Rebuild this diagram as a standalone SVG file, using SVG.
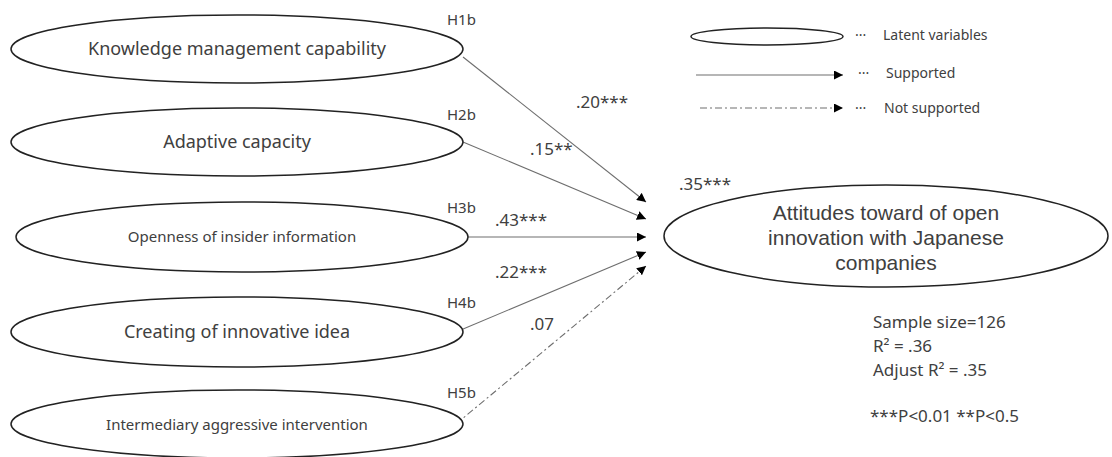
<svg xmlns="http://www.w3.org/2000/svg" width="1112" height="457" viewBox="0 0 1112 457">
<style>
.node{fill:#fff;stroke:#222;stroke-width:1.5}
.t{font-family:"Noto Sans","Liberation Sans",sans-serif;fill:#404040}
.tt{font-family:"Liberation Sans",Arial,sans-serif;fill:#404040}
.c{stroke:#6e6e6e;stroke-width:1.1;fill:none}
.dash{stroke-dasharray:7 3 2 3}
</style>
<defs>
<marker id="ah" viewBox="0 0 10 10" refX="10" refY="5" markerWidth="9" markerHeight="9" markerUnits="userSpaceOnUse" orient="auto">
<path d="M0,0 L10,5 L0,10 z" fill="#000"/>
</marker>
</defs>
<rect width="1112" height="457" fill="#fff"/>
<g id="connectors">
<line class="c" x1="463" y1="57" x2="646" y2="202" marker-end="url(#ah)"/>
<line class="c" x1="463" y1="142" x2="646" y2="219" marker-end="url(#ah)"/>
<line class="c" x1="468" y1="237" x2="646" y2="237" marker-end="url(#ah)"/>
<line class="c" x1="456" y1="332" x2="646" y2="252" marker-end="url(#ah)"/>
<line class="c dash" x1="456" y1="424" x2="646" y2="266" marker-end="url(#ah)"/>
</g>
<g id="n1"><ellipse class="node" cx="237" cy="49" rx="226" ry="34"/>
<text class="t" x="237" y="55" font-size="18" text-anchor="middle">Knowledge management capability</text></g>
<g id="n2"><ellipse class="node" cx="237" cy="142" rx="226" ry="34"/>
<text class="t" x="237" y="148" font-size="18" text-anchor="middle">Adaptive capacity</text></g>
<g id="n3"><ellipse class="node" cx="242" cy="237" rx="226" ry="35"/>
<text class="t" x="242" y="242" font-size="15" text-anchor="middle">Openness of insider information</text></g>
<g id="n4"><ellipse class="node" cx="237" cy="332" rx="226" ry="35"/>
<text class="t" x="237" y="338" font-size="18" text-anchor="middle">Creating of innovative idea</text></g>
<g id="n5"><ellipse class="node" cx="237" cy="424" rx="226" ry="34"/>
<text class="t" x="237" y="430" font-size="15" text-anchor="middle">Intermediary aggressive intervention</text></g>
<g id="target"><ellipse class="node" cx="886" cy="236" rx="222" ry="51"/>
<text class="tt" font-size="21" text-anchor="middle"><tspan x="886" y="220">Attitudes toward of open</tspan><tspan x="886" y="245">innovation with Japanese</tspan><tspan x="886" y="270">companies</tspan></text></g>
<g id="labels" class="t" font-size="15">
<text x="447" y="25">H1b</text>
<text x="447" y="120">H2b</text>
<text x="447" y="213">H3b</text>
<text x="447" y="308">H4b</text>
<text x="447" y="398">H5b</text>
</g>
<g id="coefs" class="t" font-size="17">
<text x="576" y="108">.20***</text>
<text x="530" y="155">.15**</text>
<text x="495" y="226">.43***</text>
<text x="495" y="278">.22***</text>
<text x="530" y="330">.07</text>
<text x="679" y="190">.35***</text>
</g>
<g id="legend">
<ellipse class="node" cx="767" cy="36.5" rx="76" ry="8.5"/>
<line class="c" x1="696" y1="75" x2="843" y2="75" marker-end="url(#ah)"/>
<line class="c dash" x1="700" y1="108" x2="843" y2="108" marker-end="url(#ah)"/>
<g class="t" font-size="14">
<text x="855" y="40">···</text><text x="883" y="40">Latent variables</text>
<text x="858" y="78">···</text><text x="886" y="78">Supported</text>
<text x="855" y="113">···</text><text x="884" y="113">Not supported</text>
</g>
</g>
<g id="stats" class="t" font-size="17">
<text x="873" y="328">Sample size=126</text>
<text x="873" y="352">R² = .36</text>
<text x="873" y="376">Adjust R² = .35</text>
<text x="870" y="422">***P&lt;0.01 **P&lt;0.5</text>
</g>
</svg>
